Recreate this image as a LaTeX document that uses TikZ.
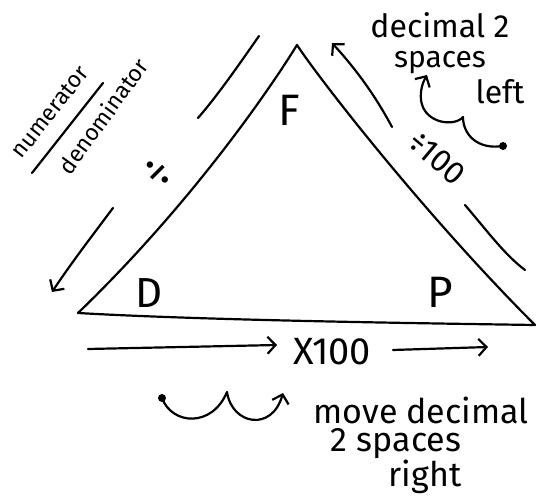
\documentclass[tikz,border=0pt]{standalone}
\usepackage{fontspec}
\setmainfont{Fira Sans}
\usetikzlibrary{arrows.meta}
\begin{document}
\begin{tikzpicture}[x=1pt,y=-1pt,
  pen/.style={line width=2.2pt,line cap=round,line join=round},
  tipend/.style={-{Straight Barb[length=8pt,width=17pt,line width=2.2pt]}},
  hand/.style={inner sep=0pt,font=\fontsize{#1}{#1}\selectfont},
  hand/.default=26]
\useasboundingbox (0,0) rectangle (542,502);
\fill[white] (0,0) rectangle (542,502);
% triangle
\coordinate (apex) at (297,45);
\coordinate (bl) at (78,313);
\coordinate (br) at (535,325);
\draw[pen] (apex) .. controls (268,92) and (190,205) .. (bl)
  .. controls (200,320) and (400,323) .. (br)
  .. controls (425,215) and (320,80) .. (apex) -- cycle;
\node[hand=44] (F) at (289,110) {F};
\node[hand=42] (D) at (149,293) {D};
\node[hand=44] (P) at (440,292) {P};
% left arrow
\coordinate (l1) at (259,36); \coordinate (l2) at (198,118);
\coordinate (l3) at (113,208); \coordinate (l4) at (52,292);
\draw[pen] (l1) .. controls (238,66) and (218,95) .. (l2);
\draw[pen,tipend] (l3) .. controls (92,236) and (72,262) .. (l4);
\node[hand=46,rotate=45] (divL) at (158,173) {÷};
% right arrow
\coordinate (r1) at (392,127); \coordinate (r2) at (332,43);
\coordinate (r3) at (465,205); \coordinate (r4) at (525,270);
\draw[pen,tipend] (r1) .. controls (375,95) and (355,68) .. (r2);
\draw[pen] (r3) .. controls (488,232) and (505,255) .. (r4);
\node[hand=32,rotate=-40] (divR) at (437,158) {÷100};
% bottom arrow
\coordinate (b1) at (88,349); \coordinate (b2) at (277,345);
\coordinate (b3) at (393,350); \coordinate (b4) at (488,347);
\draw[pen,tipend] (b1) -- (b2);
\node[hand=38] (times) at (332,352) {X100};
\draw[pen,tipend] (b3) -- (b4);
% numerator / denominator
\node[hand=23,rotate=52] (num) at (50,112) {numerator};
\node[hand=23,rotate=54] (den) at (103,116) {denominator};
\coordinate (f1) at (32,173); \coordinate (f2) at (103,83);
\draw[pen] (f1) -- (f2);
% upper right note
\node[hand=32] (dec2) at (440,25) {decimal 2};
\node[hand=30] (spL) at (440,63) {spaces};
\node[hand=32] (left) at (500,92) {left};
\coordinate (c1) at (503,146);
\fill (c1) circle (4pt);
\draw[pen,tipend] (c1) .. controls (478,150) and (463,135) .. (463,117)
  .. controls (455,127) and (424,124) .. (421,100)
  .. controls (420,90) and (423,82) .. (427,75);
% bottom note
\coordinate (c2) at (162,398);
\fill (c2) circle (4pt);
\draw[pen,tipend] (c2) .. controls (172,425) and (212,428) .. (227,392)
  .. controls (232,425) and (272,432) .. (283,393);
\node[hand=34] (mv) at (421,410) {move decimal};
\node[hand=34] (spR) at (396,444) {2 spaces};
\node[hand=34] (rt) at (425,477) {right};
\end{tikzpicture}
\end{document}
